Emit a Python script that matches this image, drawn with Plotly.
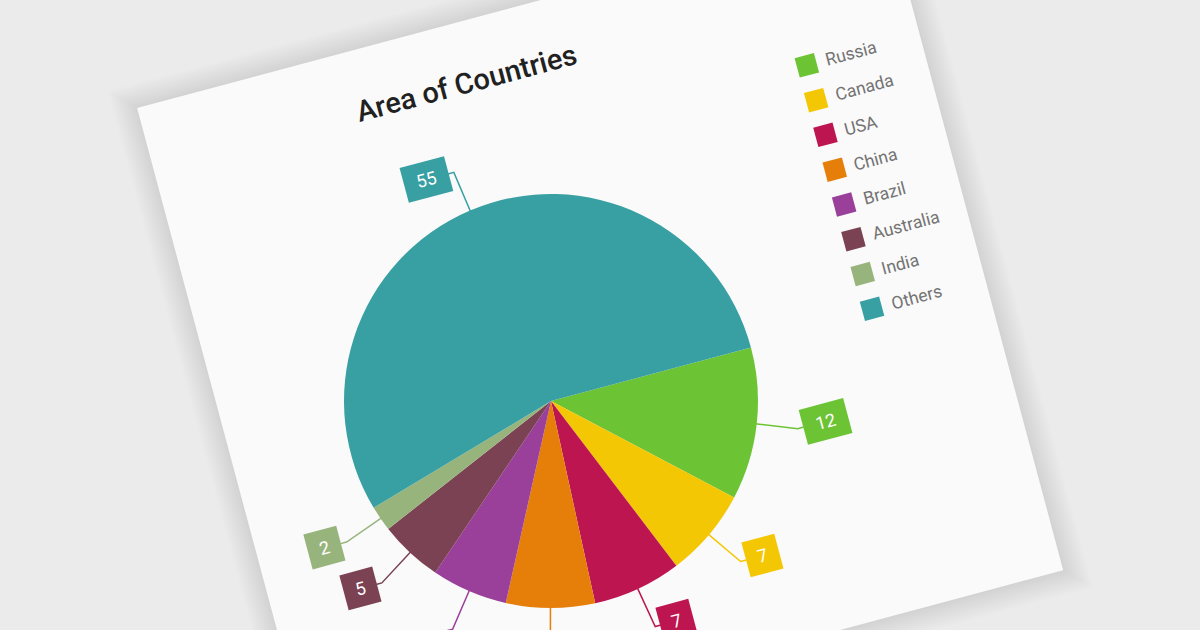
import math
import plotly.graph_objects as go

# chart data
countries = ['Russia', 'Canada', 'USA', 'China', 'Brazil', 'Australia', 'India', 'Others']
area_share = [12, 7, 7, 7, 6, 5, 2, 55]
colors = ['#6CC334', '#F4C704', '#BD1550', '#E67F0A', '#9A409B', '#7B4253', '#98B47D', '#38A0A3']
title = 'Area of Countries'

# page / card geometry (pixels)
W, H = 1200, 630
TILT = 15                      # card is tilted counter-clockwise
CX, CY, R = 551, 401, 207      # pie centre and radius
CARD_L, CARD_T, CARD_W, CARD_H = -324, -390, 775, 686   # card box in the card's own frame

ct = math.cos(math.radians(TILT))
st = math.sin(math.radians(TILT))


def to_px(qx, qy):
    # card frame (origin at pie centre) -> page pixels
    return CX + qx * ct + qy * st, CY - qx * st + qy * ct


def path(pts):
    return 'M ' + ' L '.join('%.1f,%.1f' % p for p in pts) + ' Z'


def rot_rect(qx, qy, w, h):
    corners = [(-w / 2, -h / 2), (w / 2, -h / 2), (w / 2, h / 2), (-w / 2, h / 2)]
    return path([to_px(qx + dx, qy + dy) for dx, dy in corners])


fig = go.Figure()

shapes = []
ccx, ccy = CARD_L + CARD_W / 2, CARD_T + CARD_H / 2
for k in range(12, 0, -1):
    shapes.append(dict(type='path', path=rot_rect(ccx, ccy, CARD_W + 4 * k, CARD_H + 4 * k),
                       xref='x', yref='y', fillcolor='rgba(0,0,0,0.006)', line=dict(width=0),
                       layer='below'))
shapes.append(dict(type='path', path=rot_rect(ccx, ccy, CARD_W, CARD_H), xref='x', yref='y',
                   fillcolor='#FAFAFA', line=dict(width=0), layer='below'))

fig.add_trace(go.Pie(
    labels=countries, values=area_share, sort=False, direction='clockwise',
    rotation=90 - TILT, textinfo='none', showlegend=False,
    marker=dict(colors=colors, line=dict(width=0)),
    hovertemplate='%{label}: %{value}<extra></extra>',
    domain=dict(x=[(CX - R) / W, (CX + R) / W], y=[(H - CY - R) / H, (H - CY + R) / H]),
))

annotations = []
total = sum(area_share)
cum = 0
for name, v, c in zip(countries, area_share, colors):
    mid = math.radians((cum + v / 2) / total * 360)
    cum += v
    side = 1 if math.cos(mid) >= 0 else -1
    bw = 33 if v < 10 else 45
    ex, ey = 0.98 * R * math.cos(mid), 0.98 * R * math.sin(mid)
    kx, ky = 1.2 * R * math.cos(mid), 1.2 * R * math.sin(mid)
    jx = kx + side * 6
    pts = [to_px(ex, ey), to_px(kx, ky), to_px(jx, ky)]
    fig.add_trace(go.Scatter(x=[p[0] for p in pts], y=[p[1] for p in pts], mode='lines',
                             line=dict(color=c, width=1.5), hoverinfo='skip', showlegend=False))
    bx, by = to_px(jx + side * bw / 2, ky)
    annotations.append(dict(x=bx, y=by, xref='x', yref='y', text=str(v), showarrow=False,
                            textangle=-TILT, width=bw, height=35, bgcolor=c, borderpad=0,
                            font=dict(family='Roboto', size=18, color='white')))

# title
tx, ty = to_px(1, -329)
annotations.append(dict(x=tx, y=ty, xref='x', yref='y', text=title, showarrow=False,
                        textangle=-TILT, font=dict(family='Roboto', size=29, color='#212121', weight=500)))

# legend
for i, (name, c) in enumerate(zip(countries, colors)):
    qy = -258 + 36 * i
    shapes.append(dict(type='path', path=rot_rect(334, qy, 20, 20), xref='x', yref='y',
                       fillcolor=c, line=dict(width=0), layer='above'))
    lx, ly = to_px(334 + 20 + 50, qy)
    annotations.append(dict(x=lx, y=ly, xref='x', yref='y', text=name, showarrow=False,
                            textangle=-TILT, width=100, align='left', borderpad=0,
                            font=dict(family='Roboto', size=17.5, color='#737373')))

fig.update_layout(
    width=W, height=H, margin=dict(l=0, r=0, t=0, b=0),
    paper_bgcolor='#EBEBEB', plot_bgcolor='rgba(0,0,0,0)',
    xaxis=dict(range=[0, W], visible=False, fixedrange=True),
    yaxis=dict(range=[H, 0], visible=False, fixedrange=True),
    shapes=shapes, annotations=annotations, showlegend=False,
)

fig.write_html('out.html', config={'displayModeBar': False},
               post_script="document.body.style.margin='0';document.body.style.overflow='hidden';")
